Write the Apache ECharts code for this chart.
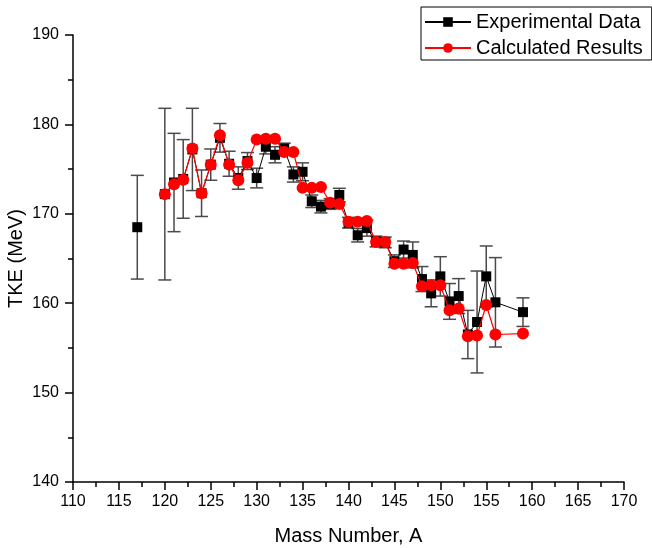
<!DOCTYPE html>
<html>
<head>
<meta charset="utf-8">
<script src="https://cdn.jsdelivr.net/npm/echarts@6/dist/echarts.min.js"></script>
<style>
html,body{margin:0;padding:0;background:#fff;}
#chart{width:652px;height:548px;}
</style>
</head>
<body>
<div id="chart"></div>
<script>
// Experimental data (mass number, TKE, error)
var expA   = [117, 120, 121, 122, 123, 124, 125, 126, 127, 128, 129, 130, 131, 132, 133, 134, 135, 136, 137, 138, 139, 140, 141, 142, 143, 144, 145, 146, 147, 148, 149, 150, 151, 152, 153, 154, 155, 156, 159];
var expTKE = [168.5, 172.2, 173.5, 173.9, 177.2, 172.3, 175.5, 178.5, 175.6, 174.0, 175.9, 174.0, 177.5, 176.6, 177.3, 174.4, 174.7, 171.4, 170.8, 171.1, 172.1, 169.0, 167.6, 168.4, 166.9, 166.8, 164.7, 166.0, 165.4, 162.7, 161.1, 163.0, 160.2, 160.8, 156.5, 157.9, 163.0, 160.1, 159.0];
var expErr = [5.8, 9.6, 5.5, 4.4, 4.6, 2.6, 1.75, 1.6, 1.4, 1.25, 0.95, 1.1, 0.8, 0.9, 0.6, 0.85, 1.0, 0.7, 0.7, 0.6, 0.75, 0.6, 0.75, 0.9, 0.6, 0.6, 0.7, 0.95, 1.45, 1.4, 1.5, 2.2, 2.0, 1.95, 2.7, 5.7, 3.4, 5.0, 1.6];
// the experimental line is not drawn between these points and the next
var expLineBreakAfter = [117];

// Calculated results
var calcA   = [120, 121, 122, 123, 124, 125, 126, 127, 128, 129, 130, 131, 132, 133, 134, 135, 136, 137, 138, 139, 140, 141, 142, 143, 144, 145, 146, 147, 148, 149, 150, 151, 152, 153, 154, 155, 156, 159];
var calcTKE = [172.2, 173.3, 173.8, 177.3, 172.3, 175.5, 178.8, 175.5, 173.75, 175.7, 178.3, 178.4, 178.4, 176.9, 176.9, 172.9, 172.9, 173.0, 171.25, 171.1, 169.1, 169.1, 169.2, 166.85, 166.85, 164.4, 164.4, 164.5, 161.9, 162.0, 162.0, 159.2, 159.4, 156.3, 156.4, 159.8, 156.5, 156.6];

var seriesNames = ['Experimental Data', 'Calculated Results'];
var xTicks = {min: 110, max: 170, interval: 5};
var yTicks = {min: 140, max: 190, interval: 10};

var FONT = '"Liberation Sans", Arial, sans-serif';

var expData = [];
expA.forEach(function (a, i) {
  expData.push([a, expTKE[i]]);
  if (expLineBreakAfter.indexOf(a) >= 0) expData.push([a, '-']);
});
var errData = expA.map(function (a, i) { return [a, expTKE[i], expErr[i]]; });
var calcData = calcA.map(function (a, i) { return [a, calcTKE[i]]; });

var chart = echarts.init(document.getElementById('chart'), null, {renderer: 'canvas'});

var axisCommon = {
  axisLine: {show: true, onZero: false, lineStyle: {color: '#000', width: 1.5}},
  axisTick: {show: true, inside: false, length: 8, lineStyle: {color: '#000', width: 1.5}},
  minorTick: {show: true, splitNumber: 2, length: 5, lineStyle: {color: '#000', width: 1.5}},
  splitLine: {show: false},
  minorSplitLine: {show: false},
  axisLabel: {color: '#000', fontSize: 16, fontFamily: FONT},
  nameTextStyle: {color: '#000', fontSize: 20, fontFamily: FONT},
  nameMoveOverlap: false
};

chart.setOption({
  animation: false,
  backgroundColor: '#fff',
  grid: {left: 73, right: 28, top: 35, bottom: 66, containLabel: false, outerBoundsMode: 'none'},
  legend: {
    data: seriesNames,
    orient: 'vertical',
    left: 421,
    top: 7,
    padding: [5, 9, 2, 3],
    itemGap: 6,
    itemWidth: 46,
    itemHeight: 12,
    borderColor: '#000',
    borderWidth: 1,
    borderRadius: 0,
    textStyle: {color: '#000', fontSize: 20, fontFamily: FONT, lineHeight: 19}
  },
  xAxis: Object.assign({}, axisCommon, {
    type: 'value',
    min: xTicks.min, max: xTicks.max, interval: xTicks.interval,
    name: 'Mass Number, A',
    nameLocation: 'middle',
    nameGap: 44,
    axisLabel: Object.assign({}, axisCommon.axisLabel, {margin: 12})
  }),
  yAxis: Object.assign({}, axisCommon, {
    type: 'value',
    min: yTicks.min, max: yTicks.max, interval: yTicks.interval,
    name: 'TKE (MeV)',
    nameLocation: 'middle',
    nameGap: 47,
    nameRotate: 90,
    axisLabel: Object.assign({}, axisCommon.axisLabel, {margin: 14})
  }),
  series: [
    {
      name: 'errors',
      type: 'custom',
      data: errData,
      encode: {x: 0, y: 1},
      z: 2,
      silent: true,
      renderItem: function (params, api) {
        var x = api.value(0), y = api.value(1), e = api.value(2);
        var top = api.coord([x, y + e]);
        var bot = api.coord([x, y - e]);
        var hw = 6.5;
        var st = {stroke: '#4a4a4a', lineWidth: 1.5};
        return {
          type: 'group',
          children: [
            {type: 'line', shape: {x1: top[0], y1: top[1], x2: bot[0], y2: bot[1]}, style: st},
            {type: 'line', shape: {x1: top[0] - hw, y1: top[1], x2: top[0] + hw, y2: top[1]}, style: st},
            {type: 'line', shape: {x1: bot[0] - hw, y1: bot[1], x2: bot[0] + hw, y2: bot[1]}, style: st}
          ]
        };
      }
    },
    {
      name: seriesNames[0],
      type: 'line',
      data: expData,
      z: 3,
      symbol: 'rect',
      symbolSize: 10,
      showAllSymbol: true,
      connectNulls: false,
      lineStyle: {color: '#000', width: 1},
      itemStyle: {color: '#000'}
    },
    {
      name: seriesNames[1],
      type: 'line',
      data: calcData,
      z: 4,
      symbol: 'circle',
      symbolSize: 12,
      showAllSymbol: true,
      lineStyle: {color: '#ff0000', width: 1.2},
      itemStyle: {color: '#ff0000'}
    }
  ]
});
</script>
</body>
</html>
